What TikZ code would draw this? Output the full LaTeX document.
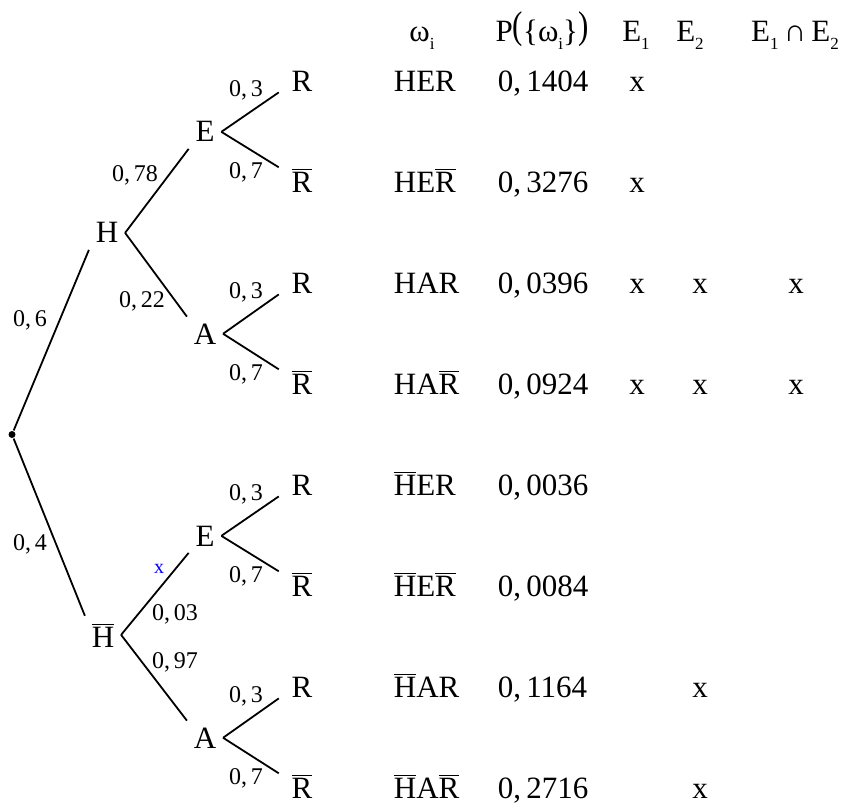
\documentclass[tikz,border=0pt]{standalone}
\usepackage{fontspec}
\usepackage{graphicx}
\setmainfont{Liberation Serif}
\usetikzlibrary{positioning}
\newcommand{\ovl}[1]{$\overline{\hbox{#1}}$}
\newcommand{\lowsub}[1]{\raisebox{-0.5ex}{\fontsize{8.5}{8.5}\selectfont #1}}
\newcommand{\tallparen}[1]{\raisebox{1.5pt}{\scalebox{1}[1.25]{#1}}}

\begin{document}
\begin{tikzpicture}[x=0.5pt, y=-0.5pt, line width=0.9pt,
  font=\fontsize{15.5}{18}\selectfont,
  lvl/.style={inner xsep=3pt, inner ysep=3pt, anchor=base},
  leaf/.style={inner xsep=6pt, inner ysep=0pt, anchor=base},
  prob/.style={font=\fontsize{12}{14}\selectfont, anchor=base, inner sep=0pt},
  cell/.style={anchor=base west, inner sep=0pt},
  xcell/.style={anchor=base, inner sep=0pt},
  dot/.style={circle, fill, inner sep=0pt, minimum size=3.5pt}]
  \useasboundingbox (0,0) rectangle (845,812);
  % tree
  \node[dot] (O) at (12,434.5) {};
  \node[lvl] (H)  at (107,243) {H};
  \node[lvl] (Hb) at (103,647) {\ovl{H}};
  \node[lvl] (E1) at (205,142) {E};
  \node[lvl] (A1) at (205,344) {A};
  \node[lvl] (E2) at (205,546) {E};
  \node[lvl] (A2) at (205,748) {A};
  \node[leaf] (r1) at (302,91.5)  {R};
  \node[leaf] (r2) at (302,192.5) {\ovl{R}};
  \node[leaf] (r3) at (302,293.5) {R};
  \node[leaf] (r4) at (302,394.5) {\ovl{R}};
  \node[leaf] (r5) at (302,495.5) {R};
  \node[leaf] (r6) at (302,596.5) {\ovl{R}};
  \node[leaf] (r7) at (302,697.5) {R};
  \node[leaf] (r8) at (302,798.5) {\ovl{R}};
  \draw (O) -- (H.south west);
  \draw (O) -- (Hb.north west);
  \draw (H.east) -- (E1.south west);
  \draw (H.east) -- (A1.north west);
  \draw (Hb.east) -- (E2.south west);
  \draw (Hb.east) -- (A2.north west);
  \draw (E1.east) -- (r1.south west);
  \draw (E1.east) -- (r2.north west);
  \draw (A1.east) -- (r3.south west);
  \draw (A1.east) -- (r4.north west);
  \draw (E2.east) -- (r5.south west);
  \draw (E2.east) -- (r6.north west);
  \draw (A2.east) -- (r7.south west);
  \draw (A2.east) -- (r8.north west);
  % branch probabilities
  \node[prob] (q6)  at (30,327)  {0,\,6};
  \node[prob] (q4)  at (30,550)  {0,\,4};
  \node[prob] (q78) at (135,182) {0,\,78};
  \node[prob] (q22) at (142,307) {0,\,22};
  \node[prob] (q03) at (175,620) {0,\,03};
  \node[prob] (q97) at (175,668) {0,\,97};
  \node[prob, text=blue, font=\fontsize{10}{12}\selectfont] (bx) at (159,573) {x};
  \node[prob] (s1) at (246,96.5)  {0,\,3};
  \node[prob] (s2) at (246,178.5) {0,\,7};
  \node[prob] (s3) at (246,298.5) {0,\,3};
  \node[prob] (s4) at (246,380.5) {0,\,7};
  \node[prob] (s5) at (246,500.5) {0,\,3};
  \node[prob] (s6) at (246,582.5) {0,\,7};
  \node[prob] (s7) at (246,702.5) {0,\,3};
  \node[prob] (s8) at (246,784.5) {0,\,7};
  % table
  \node[xcell] (hw)   at (422,42) {ω\lowsub{i}};
  \node[xcell] (hp)   at (542,42) {P\tallparen{(}\{ω\lowsub{i}\}\tallparen{)}};
  \node[xcell] (he1)  at (636,42) {E\lowsub{1}};
  \node[xcell] (he2)  at (690,42) {E\lowsub{2}};
  \node[xcell] (he12) at (795,42) {E\lowsub{1}\,∩\,E\lowsub{2}};
  \node[cell] (w1) at (393,91.5)  {HER};
  \node[cell] (w2) at (393,192.5) {HE\ovl{R}};
  \node[cell] (w3) at (393,293.5) {HAR};
  \node[cell] (w4) at (393,394.5) {HA\ovl{R}};
  \node[cell] (w5) at (393,495.5) {\ovl{H}ER};
  \node[cell] (w6) at (393,596.5) {\ovl{H}E\ovl{R}};
  \node[cell] (w7) at (393,697.5) {\ovl{H}AR};
  \node[cell] (w8) at (393,798.5) {\ovl{H}A\ovl{R}};
  \node[cell] (p1) at (497,91.5)  {0,\,1404};
  \node[cell] (p2) at (497,192.5) {0,\,3276};
  \node[cell] (p3) at (497,293.5) {0,\,0396};
  \node[cell] (p4) at (497,394.5) {0,\,0924};
  \node[cell] (p5) at (497,495.5) {0,\,0036};
  \node[cell] (p6) at (497,596.5) {0,\,0084};
  \node[cell] (p7) at (497,697.5) {0,\,1164};
  \node[cell] (p8) at (497,798.5) {0,\,2716};
  \node[xcell] (a1) at (637,91.5)  {x};
  \node[xcell] (a2) at (637,192.5) {x};
  \node[xcell] (a3) at (637,293.5) {x};
  \node[xcell] (a4) at (637,394.5) {x};
  \node[xcell] (b3) at (700,293.5) {x};
  \node[xcell] (b4) at (700,394.5) {x};
  \node[xcell] (b7) at (700,697.5) {x};
  \node[xcell] (b8) at (700,798.5) {x};
  \node[xcell] (c3) at (796,293.5) {x};
  \node[xcell] (c4) at (796,394.5) {x};
\end{tikzpicture}
\end{document}
